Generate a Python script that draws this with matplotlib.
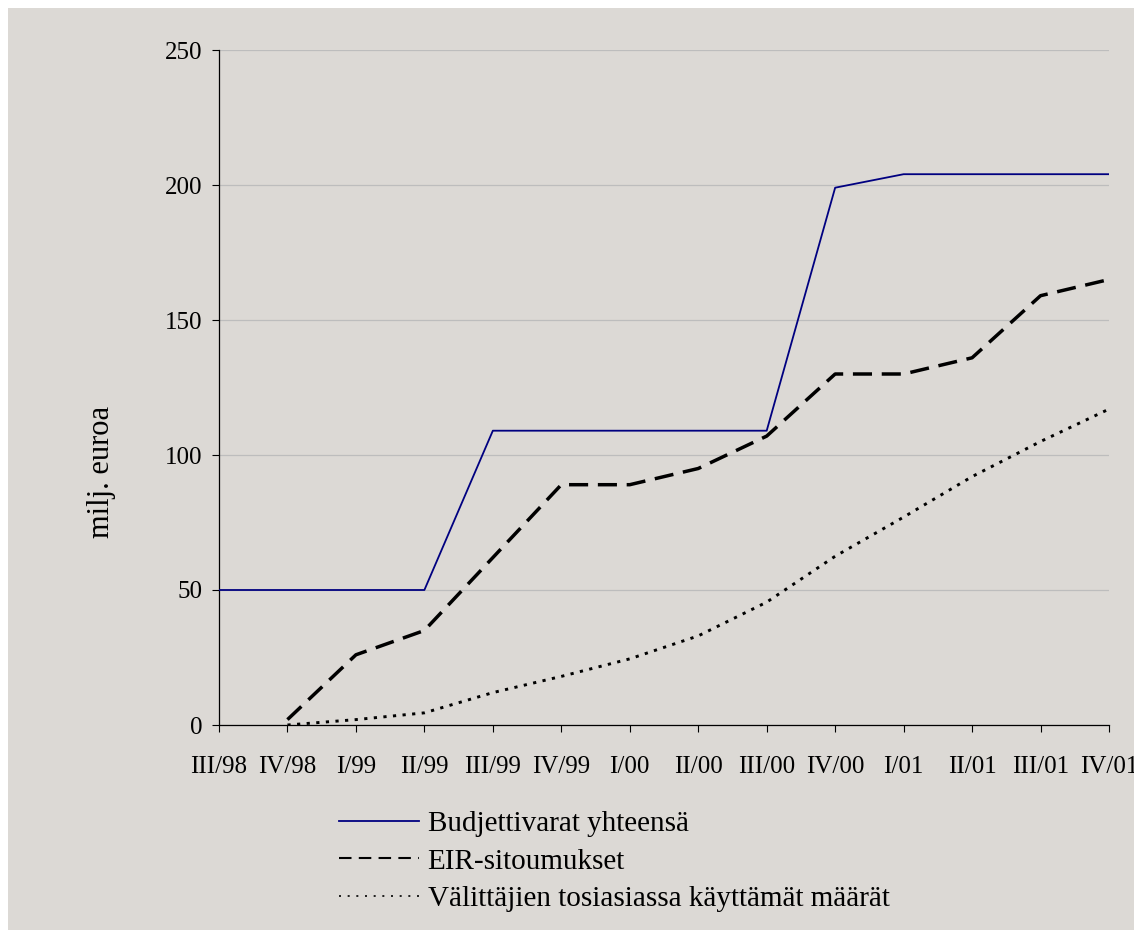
import numpy as np
import matplotlib
matplotlib.use("Agg")
import matplotlib.pyplot as plt
from matplotlib.lines import Line2D
from matplotlib.patches import Rectangle

# quarters on the x axis
quarters = ["III/98", "IV/98", "I/99", "II/99", "III/99", "IV/99", "I/00",
            "II/00", "III/00", "IV/00", "I/01", "II/01", "III/01", "IV/01"]

# milj. euroa
budjettivarat = [50, 50, 50, 50, 109, 109, 109, 109, 109, 199, 204, 204, 204, 204]
eir_sitoumukset = [np.nan, 2, 26, 35, 62, 89, 89, 95, 107, 130, 130, 136, 159, 165]
kaytetyt = [np.nan, 0, 2, 4.5, 12, 18, 24.5, 33, 45.5, 62.5, 77, 92, 105, 117]

labels = ["Budjettivarat yhteensä", "EIR-sitoumukset",
          "Välittäjien tosiasiassa käyttämät määrät"]

plt.rcParams["font.family"] = ["Liberation Serif", "DejaVu Serif"]
bg = "#dcd9d5"

fig = plt.figure(figsize=(11.34, 9.30), dpi=100, facecolor="white")
# grey chart area with a thin white margin on the top and left
fig.patches.append(Rectangle((8 / 1134, 0), 1, 1 - 8 / 930, transform=fig.transFigure,
                             facecolor=bg, edgecolor="none", zorder=-10))

ax = fig.add_axes([219 / 1134, 1 - 725 / 930, (1109 - 219) / 1134, (725 - 50) / 930])
ax.set_facecolor(bg)

x = np.arange(len(quarters))
ax.plot(x, budjettivarat, color="#000080", lw=1.3, zorder=3)
ax.plot(x, eir_sitoumukset, color="black", lw=2.5, linestyle=(0, (5.5, 2.8)), zorder=3)
ax.plot(x, kaytetyt, color="black", lw=2.1, linestyle=(0, (1.1, 2.2)), zorder=3)

ax.set_xlim(0, len(quarters) - 1)
ax.set_ylim(0, 250)
ax.set_yticks([0, 50, 100, 150, 200, 250])
ax.set_xticks(x)
ax.set_xticklabels(quarters)
ax.yaxis.grid(True, color="#bdbdbd", lw=0.9)
ax.set_axisbelow(True)
for s in ["top", "right"]:
    ax.spines[s].set_visible(False)
for s in ["left", "bottom"]:
    ax.spines[s].set_linewidth(0.9)
ax.tick_params(axis="both", direction="out", length=5, width=0.8, labelsize=18)
ax.tick_params(axis="x", pad=17)
ax.tick_params(axis="y", pad=7)

fig.text(102 / 1134, 1 - 472 / 930, "milj. euroa", rotation=90, fontsize=22,
         ha="center", va="center")

handles = [
    Line2D([], [], color="#000080", lw=1.3),
    Line2D([], [], color="black", lw=1.5, linestyle=(0, (6, 3.5))),
    Line2D([], [], color="black", lw=1.2, linestyle=(0, (1.2, 4))),
]
fig.legend(handles, labels, loc="upper left", bbox_to_anchor=(324 / 1134, 1 - 796 / 930),
           frameon=False, fontsize=21, handlelength=2.75, handletextpad=0.3,
           labelspacing=0.38, borderpad=0)

fig.savefig("out.png", dpi=100, facecolor="white")
